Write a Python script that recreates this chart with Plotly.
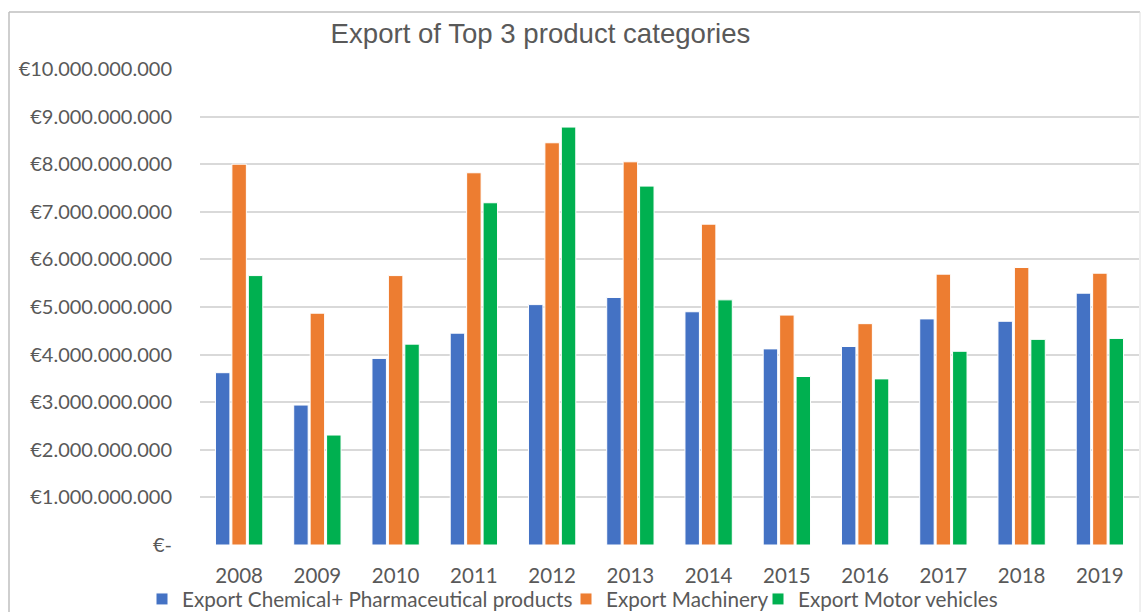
import plotly.graph_objects as go

years = ["2008", "2009", "2010", "2011", "2012", "2013", "2014", "2015", "2016", "2017", "2018", "2019"]
chemical = [3.62e9, 2.94e9, 3.92e9, 4.45e9, 5.05e9, 5.20e9, 4.90e9, 4.12e9, 4.17e9, 4.75e9, 4.70e9, 5.29e9]
machinery = [8.00e9, 4.87e9, 5.66e9, 7.82e9, 8.45e9, 8.05e9, 6.74e9, 4.83e9, 4.65e9, 5.69e9, 5.83e9, 5.71e9]
motor = [5.66e9, 2.31e9, 4.22e9, 7.19e9, 8.78e9, 7.54e9, 5.15e9, 3.54e9, 3.49e9, 4.07e9, 4.32e9, 4.34e9]

series_names = ["Export Chemical+ Pharmaceutical products", "Export Machinery", "Export Motor vehicles"]
series_colors = ["#4472C4", "#ED7D31", "#00B050"]

y_tickvals = [0, 1e9, 2e9, 3e9, 4e9, 5e9, 6e9, 7e9, 8e9, 9e9, 10e9]
y_ticktext = ["€-", "€1.000.000.000", "€2.000.000.000", "€3.000.000.000", "€4.000.000.000",
              "€5.000.000.000", "€6.000.000.000", "€7.000.000.000", "€8.000.000.000",
              "€9.000.000.000", "€10.000.000.000"]

title_text = "Export of Top 3 product categories"

W, H = 1141, 612
grey_text = "#595959"
legend_ids = ["legend", "legend2", "legend3"]
legend_text_x = [183, 607, 799]   # pixel where each legend entry's text starts

fig = go.Figure()
for name, vals, col, lid in zip(series_names, [chemical, machinery, motor], series_colors, legend_ids):
    fig.add_trace(go.Bar(
        x=years, y=vals, name=name, legend=lid,
        marker=dict(color=col, line=dict(color="white", width=1)),
    ))

legend_common = dict(orientation="h", xref="container", yref="container", xanchor="left",
                     y=1 - 599 / H, yanchor="middle",
                     font=dict(family="Lato, sans-serif", size=20.7, color=grey_text),
                     itemwidth=30, bgcolor="rgba(0,0,0,0)", borderwidth=0)

layout_legends = {}
for lid, tx in zip(legend_ids, legend_text_x):
    layout_legends[lid] = dict(legend_common, x=(tx - 41) / W)

fig.update_layout(
    width=W, height=H,
    paper_bgcolor="white", plot_bgcolor="white",
    margin=dict(l=200, r=2, t=69, b=67, autoexpand=False),
    barmode="group", bargap=0.37, bargroupgap=0.12,
    title=dict(text=title_text, x=540.5 / W, xref="container", xanchor="center",
               y=1 - 33 / H, yref="container", yanchor="middle",
               font=dict(family="Liberation Sans, Arial, sans-serif", size=27.6, color=grey_text)),
    font=dict(family="Lato, sans-serif", color=grey_text),
    showlegend=True,
    **layout_legends,
)
fig.update_yaxes(range=[0, 10e9], tickvals=y_tickvals, ticktext=y_ticktext, automargin=False,
                 showgrid=True, gridcolor="#D9D9D9", gridwidth=1.5,
                 zeroline=False, showline=False, ticks="", ticklabelstandoff=27,
                 tickfont=dict(family="Lato, sans-serif", size=20, color=grey_text))
fig.update_xaxes(showgrid=False, showline=False, ticks="", ticklabelstandoff=16, automargin=False,
                 tickfont=dict(family="Lato, sans-serif", size=20.5, color=grey_text))

# chart-area border (top / left / right), as in the spreadsheet chart
x_left = (9 - 200) / 939
x_right = (1140 - 200) / 939
y_top = (545 - 12) / 476
fig.add_shape(type="line", xref="paper", yref="paper", x0=x_left, x1=x_right, y0=y_top, y1=y_top,
              line=dict(color="#BFBFBF", width=1.5), layer="below")
fig.add_shape(type="line", xref="paper", yref="paper", x0=x_left, x1=x_left, y0=y_top, y1=-0.2,
              line=dict(color="#BFBFBF", width=1.5), layer="below")
fig.add_shape(type="line", xref="paper", yref="paper", x0=x_right, x1=x_right, y0=y_top, y1=-0.2,
              line=dict(color="#E0E0E0", width=1), layer="below")

fig.write_html("out.html", config={"displayModeBar": False},
               post_script="document.body.style.margin='0';document.body.style.overflow='hidden';")
